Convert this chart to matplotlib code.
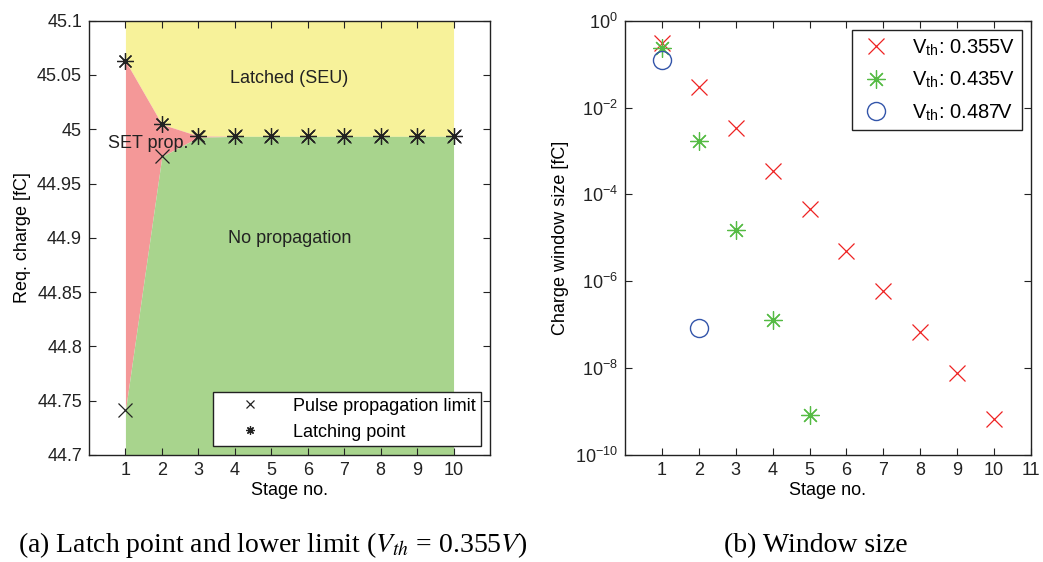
import numpy as np
import matplotlib
matplotlib.use("Agg")
import matplotlib.pyplot as plt

plt.rcParams['font.family'] = ['Liberation Sans', 'DejaVu Sans']
plt.rcParams['mathtext.fontset'] = 'stix'

# Stage numbers
stages = [1, 2, 3, 4, 5, 6, 7, 8, 9, 10]

# (a) Required charge [fC] for Vth = 0.355 V
latch_point = [45.063, 45.0046, 44.9938, 44.9935, 44.9935, 44.9935, 44.9935, 44.9935, 44.9935, 44.9935]
prop_limit = [44.741, 44.975, 44.9925, 44.9935, 44.9935, 44.9935, 44.9935, 44.9935, 44.9935, 44.9935]

# (b) Charge window size [fC] per threshold voltage
stages_355 = [1, 2, 3, 4, 5, 6, 7, 8, 9, 10]
window_355 = [0.31, 0.0295, 3.3e-3, 3.5e-4, 4.5e-5, 5.1e-6, 5.9e-7, 6.7e-8, 7.6e-9, 6.6e-10]
stages_435 = [1, 2, 3, 4, 5]
window_435 = [0.24, 1.7e-3, 1.5e-5, 1.25e-7, 8.3e-10]
stages_487 = [1, 2]
window_487 = [0.125, 8.2e-8]

asterisk = (8, 2, 0)
fs = 13

fig = plt.figure(figsize=(10.43, 5.62), dpi=100)
axa = fig.add_axes([0.0853, 0.1904, 0.3845, 0.7728])
axb = fig.add_axes([0.5992, 0.1904, 0.3893, 0.7728])

# ---- (a) latch point and lower limit ----
ymin, ymax = 44.7, 45.1
x = np.array(stages, dtype=float)
lat = np.array(latch_point)
lim = np.array(prop_limit)
axa.fill_between(x, lat, ymax, color='#F7F29A', lw=0, zorder=1)
axa.fill_between(x, lim, lat, color='#F49898', lw=0, zorder=1)
axa.fill_between(x, ymin, lim, color='#A8D48D', lw=0, zorder=1)

axa.plot(x, lim, ls='none', marker='x', ms=10, mew=0.9, color='#222222', zorder=3,
         label='Pulse propagation limit')
axa.plot(x, lat, ls='none', marker=asterisk, ms=12, mew=0.9, color='#222222', zorder=3,
         label='Latching point')

axa.text(5.5, 45.047, 'Latched (SEU)', ha='center', va='center', fontsize=fs, color='#222222')
axa.text(5.5, 44.899, 'No propagation', ha='center', va='center', fontsize=fs, color='#222222')
axa.text(1.62, 44.987, 'SET prop.', ha='center', va='center', fontsize=fs, color='#222222')

axa.set_xlim(0, 11)
axa.set_ylim(ymin, ymax)
axa.set_xticks(stages)
axa.set_yticks([44.7, 44.75, 44.8, 44.85, 44.9, 44.95, 45.0, 45.05, 45.1])
axa.set_yticklabels(['44.7', '44.75', '44.8', '44.85', '44.9', '44.95', '45', '45.05', '45.1'])
axa.set_xlabel('Stage no.', fontsize=fs, labelpad=2)
axa.set_ylabel('Req. charge [fC]', fontsize=fs, labelpad=4)
leg = axa.legend(loc='lower right', fontsize=fs, frameon=True, fancybox=False,
                 edgecolor='#222222', framealpha=1, borderpad=0.3, handlelength=3.5,
                 handletextpad=0.6, labelspacing=0.5, borderaxespad=0,
                 bbox_to_anchor=(0.9776, 0.0207))
leg.get_frame().set_linewidth(1.0)
for lh in leg.legend_handles:
    lh.set_markersize(6)

# ---- (b) window size ----
axb.semilogy(stages_355, window_355, ls='none', marker='x', ms=11, mew=0.9,
             color='#EE2222', label=r'V$_{\mathregular{th}}$: 0.355V')
axb.semilogy(stages_435, window_435, ls='none', marker=asterisk, ms=13, mew=0.9,
             color='#55BB44', label=r'V$_{\mathregular{th}}$: 0.435V')
axb.semilogy(stages_487, window_487, ls='none', marker='o', ms=13, mew=1.0,
             mfc='none', color='#3355AA', label=r'V$_{\mathregular{th}}$: 0.487V')
axb.set_xlim(0, 11)
axb.set_ylim(1e-10, 1)
axb.set_xticks(range(1, 12))
axb.set_yticks([1e-10, 1e-8, 1e-6, 1e-4, 1e-2, 1e0])
axb.yaxis.set_minor_locator(matplotlib.ticker.NullLocator())
axb.set_xlabel('Stage no.', fontsize=fs, labelpad=2)
axb.set_ylabel('Charge window size [fC]', fontsize=fs, labelpad=4)
legb = axb.legend(loc='upper right', fontsize=14.5, frameon=True, fancybox=False,
                  edgecolor='#222222', framealpha=1, borderpad=0.35, handlelength=1.6,
                  handletextpad=1.0, labelspacing=0.6, borderaxespad=0,
                  bbox_to_anchor=(0.978, 0.979))
legb.get_frame().set_linewidth(1.0)

for ax in (axa, axb):
    ax.tick_params(direction='in', top=True, right=True, labelsize=fs, length=5,
                   width=0.8, colors='#222222', pad=5)
    for s in ax.spines.values():
        s.set_linewidth(1.0)
        s.set_color('#222222')
    ax.set_axisbelow(False)

fig.text(0.262, 0.030, r'(a) Latch point and lower limit ($V_{th}$ = 0.355$V$)',
         ha='center', va='center', fontsize=20, family='Liberation Serif')
fig.text(0.782, 0.030, '(b) Window size', ha='center', va='center', fontsize=20,
         family='Liberation Serif')

fig.savefig('out.png', dpi=100)
